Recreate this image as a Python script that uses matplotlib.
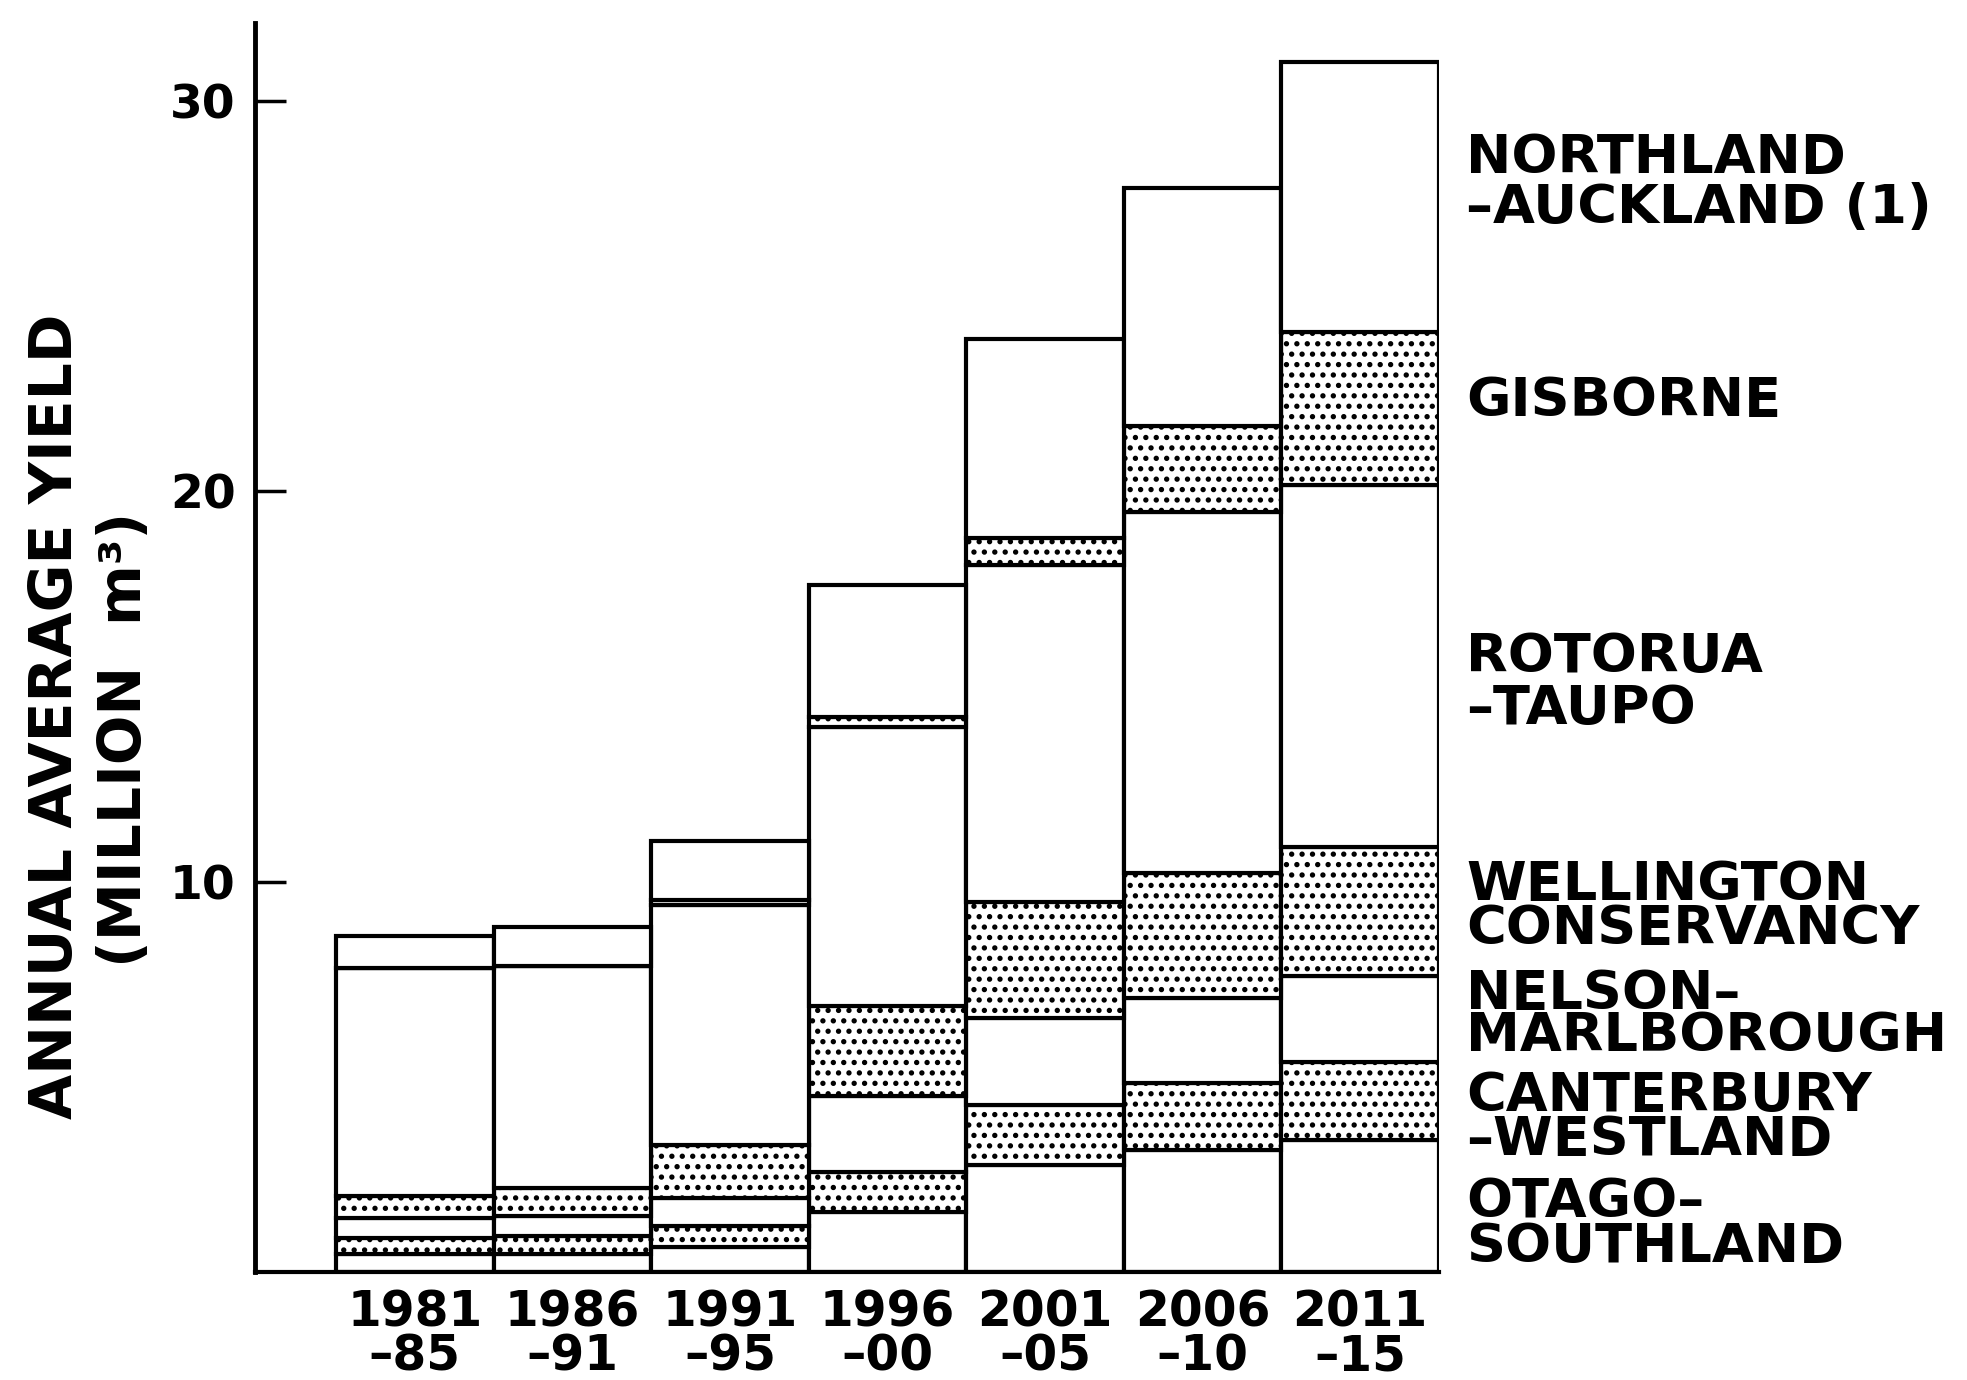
import matplotlib
matplotlib.use("Agg")
import matplotlib.pyplot as plt
import numpy as np

periods = ["1981\n–85", "1986\n–91", "1991\n–95", "1996\n–00", "2001\n–05", "2006\n–10", "2011\n–15"]
regions = ["OTAGO–\nSOUTHLAND", "CANTERBURY\n–WESTLAND", "NELSON–\nMARLBOROUGH",
           "WELLINGTON\nCONSERVANCY", "ROTORUA\n–TAUPO", "GISBORNE", "NORTHLAND\n–AUCKLAND (1)"]
otago = [0.45, 0.45, 0.64, 1.55, 2.73, 3.12, 3.38]
canterbury = [0.41, 0.46, 0.53, 1.00, 1.55, 1.71, 2.01]
nelson = [0.52, 0.53, 0.73, 1.95, 2.22, 2.19, 2.19]
wellington = [0.57, 0.70, 1.36, 2.31, 2.99, 3.19, 3.30]
rotorua = [5.85, 5.69, 6.14, 7.16, 8.63, 9.27, 9.28]
gisborne = [0.0, 0.0, 0.12, 0.25, 0.68, 2.19, 3.92]
northland = [0.80, 1.01, 1.53, 3.37, 5.10, 6.10, 6.92]
series = [otago, canterbury, nelson, wellington, rotorua, gisborne, northland]
stippled = [False, True, False, True, False, True, False]
yticks = [10, 20, 30]

DPI = 125
S = 100 / DPI  # sizes below are given as if at 100 dpi

plt.rcParams['font.family'] = ["DejaVu Sans"]
plt.rcParams['hatch.linewidth'] = 2.3 * S
plt.rcParams['hatch.color'] = 'black'

fig = plt.figure(figsize=(1967 / DPI, 1380 / DPI), dpi=DPI)
ax = fig.add_axes([255/1967, 1 - 1272/1380, (1439-255)/1967, (1272-23)/1380])

x = np.arange(len(periods))
bottom = np.zeros(len(periods))
for vals, st in zip(series, stippled):
    v = np.array(vals)
    ax.bar(x, v, width=1.0, bottom=bottom, facecolor='white', edgecolor='black',
           linewidth=3.0 * S, hatch='..' if st else None, zorder=2)
    bottom = bottom + v

ax.set_xlim(-1.014, 6.5)
ax.set_ylim(0, 32)
for s in ['top', 'right']:
    ax.spines[s].set_visible(False)
ax.spines['left'].set_linewidth(3.5 * S)
ax.spines['bottom'].set_linewidth(3.0 * S)
ax.set_yticks(yticks)
ax.set_yticklabels([str(t) for t in yticks], fontsize=34 * S, fontweight='bold')
ax.tick_params(axis='y', direction='in', length=22 * S, width=2.5 * S, pad=14 * S)
ax.set_xticks(x)
ax.set_xticklabels(periods, fontsize=35 * S, fontweight='bold', linespacing=0.9)
ax.tick_params(axis='x', length=0, pad=12 * S)

fig.text(56/1967, 1 - 716/1380, "ANNUAL AVERAGE YIELD", rotation=90, ha='center', va='center',
         fontsize=42 * S, fontweight='bold')
fig.text(125/1967, 1 - 739/1380, "(MILLION  m³)", rotation=90, ha='center', va='center',
         fontsize=42 * S, fontweight='bold')

label_y = [1225, 1118, 1015, 907, 683, 401, 183]
label_ls = [0.82, 0.82, 0.78, 0.82, 0.98, 1.0, 0.96]
for lab, yy, ls in zip(regions, label_y, label_ls):
    fig.text(1466/1967, 1 - yy/1380, lab, ha='left', va='center', fontsize=39 * S,
             fontweight='bold', linespacing=ls)

fig.savefig("out.png", dpi=DPI)
